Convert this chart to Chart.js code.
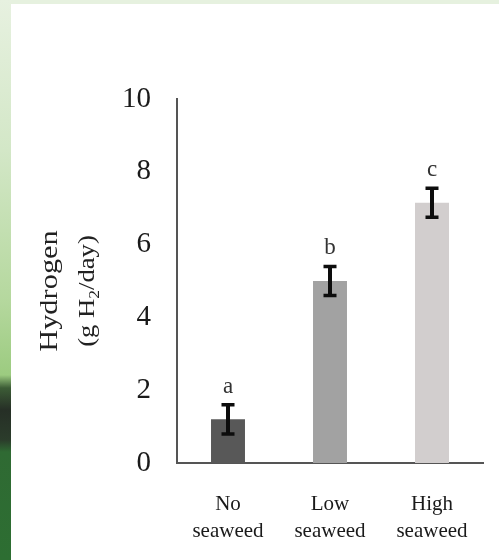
<!DOCTYPE html>
<html>
<head>
<meta charset="utf-8">
<script src="https://cdn.jsdelivr.net/npm/chart.js@4.4.0/dist/chart.umd.min.js"></script>
<style>
  html, body { margin: 0; padding: 0; background: #fff; }
  #wrap { position: relative; width: 499px; height: 560px; overflow: hidden; background: #fff; }
  #topband { position: absolute; left: 0; top: 0; width: 499px; height: 4px; background: #e6f1df; }
  #leftband {
    position: absolute; left: 0; top: 0; width: 11px; height: 560px;
    background: linear-gradient(to bottom, #e7f1e0 0px, #d3e7c7 150px, #b5d89e 300px, #9ccb80 375px,
      #3c5c36 388px, #262f26 410px, #2b3c2b 440px, #2f6a33 452px, #2d6e32 560px);
  }
  canvas { position: absolute; left: 0; top: 0; }
</style>
</head>
<body>
<div id="wrap">
  <div id="topband"></div>
  <div id="leftband"></div>
  <canvas id="chartH2" width="499" height="560"></canvas>
</div>
<script>
const categories = [['No', 'seaweed'], ['Low', 'seaweed'], ['High', 'seaweed']];
const hydrogen = [1.2, 5.0, 7.15];
const errors = [0.4, 0.4, 0.4];
const letters = ['a', 'b', 'c'];
const barColors = ['#585858', '#a2a2a2', '#d2cece'];

const serif = '"Liberation Serif", "Times New Roman", serif';

// error bars, significance letters and the two-line y title
const annotate = {
    id: 'annotate',
    afterDatasetsDraw(chart) {
        const ctx = chart.ctx;
        const y = chart.scales.y;
        const meta = chart.getDatasetMeta(0);
        ctx.save();
        meta.data.forEach((bar, i) => {
            const top = y.getPixelForValue(hydrogen[i] + errors[i]);
            const bot = y.getPixelForValue(hydrogen[i] - errors[i]);
            ctx.strokeStyle = '#0d0d0d';
            ctx.lineWidth = 4;
            ctx.beginPath();
            ctx.moveTo(bar.x, top);
            ctx.lineTo(bar.x, bot);
            ctx.stroke();
            ctx.lineWidth = 3.5;
            ctx.beginPath();
            ctx.moveTo(bar.x - 6.5, top);
            ctx.lineTo(bar.x + 6.5, top);
            ctx.moveTo(bar.x - 6.5, bot);
            ctx.lineTo(bar.x + 6.5, bot);
            ctx.stroke();

            ctx.fillStyle = '#333';
            ctx.font = '23px ' + serif;
            ctx.textAlign = 'center';
            ctx.textBaseline = 'alphabetic';
            ctx.fillText(letters[i], bar.x, top - 12);
        });
        ctx.restore();
    },
    afterDraw(chart) {
        const ctx = chart.ctx;
        ctx.save();
        ctx.fillStyle = '#222';
        ctx.textBaseline = 'alphabetic';

        ctx.save();
        ctx.translate(57, 291);
        ctx.rotate(-Math.PI / 2);
        ctx.scale(1.17, 1);
        ctx.font = '26px ' + serif;
        ctx.textAlign = 'center';
        ctx.fillText('Hydrogen', 0, 0);
        ctx.restore();

        ctx.save();
        ctx.translate(94, 291);
        ctx.rotate(-Math.PI / 2);
        ctx.scale(1.16, 1);
        ctx.textAlign = 'left';
        const big = '23px ' + serif, small = '15px ' + serif;
        ctx.font = big;
        const w1 = ctx.measureText('(g H').width;
        const w3 = ctx.measureText('/day)').width;
        ctx.font = small;
        const w2 = ctx.measureText('2').width;
        let x = -(w1 + w2 + w3) / 2;
        ctx.font = big;
        ctx.fillText('(g H', x, 0);
        x += w1;
        ctx.font = small;
        ctx.fillText('2', x, 5);
        x += w2;
        ctx.font = big;
        ctx.fillText('/day)', x, 0);
        ctx.restore();

        ctx.restore();
    }
};

const ctx = document.getElementById('chartH2').getContext('2d');
const chart = new Chart(ctx, {
    type: 'bar',
    data: {
        labels: categories,
        datasets: [
            {
                label: 'Hydrogen',
                data: hydrogen,
                backgroundColor: barColors,
                borderWidth: 0,
                barPercentage: 0.333,
                categoryPercentage: 1
            }
        ]
    },
    options: {
        responsive: false,
        animation: false,
        devicePixelRatio: 1,
        layout: {
            padding: { left: 0, top: 99, right: 16, bottom: 0 }
        },
        plugins: {
            legend: { display: false },
            tooltip: { enabled: false }
        },
        scales: {
            x: {
                grid: { display: false, drawTicks: false },
                border: { display: true, color: '#555', width: 2 },
                ticks: {
                    color: '#1a1a1a',
                    font: { family: serif, size: 21, lineHeight: 1.29 },
                    padding: 28,
                    maxRotation: 0,
                    autoSkip: false
                },
                afterFit: s => { s.height = 97; }
            },
            y: {
                min: 0,
                max: 10,
                grid: { display: false, drawTicks: false },
                border: { display: true, color: '#555', width: 2 },
                ticks: {
                    stepSize: 2,
                    color: '#1a1a1a',
                    font: { family: serif, size: 29 },
                    padding: 26
                },
                afterFit: s => { s.width = 177; }
            }
        }
    },
    plugins: [annotate]
});
</script>
</body>
</html>
